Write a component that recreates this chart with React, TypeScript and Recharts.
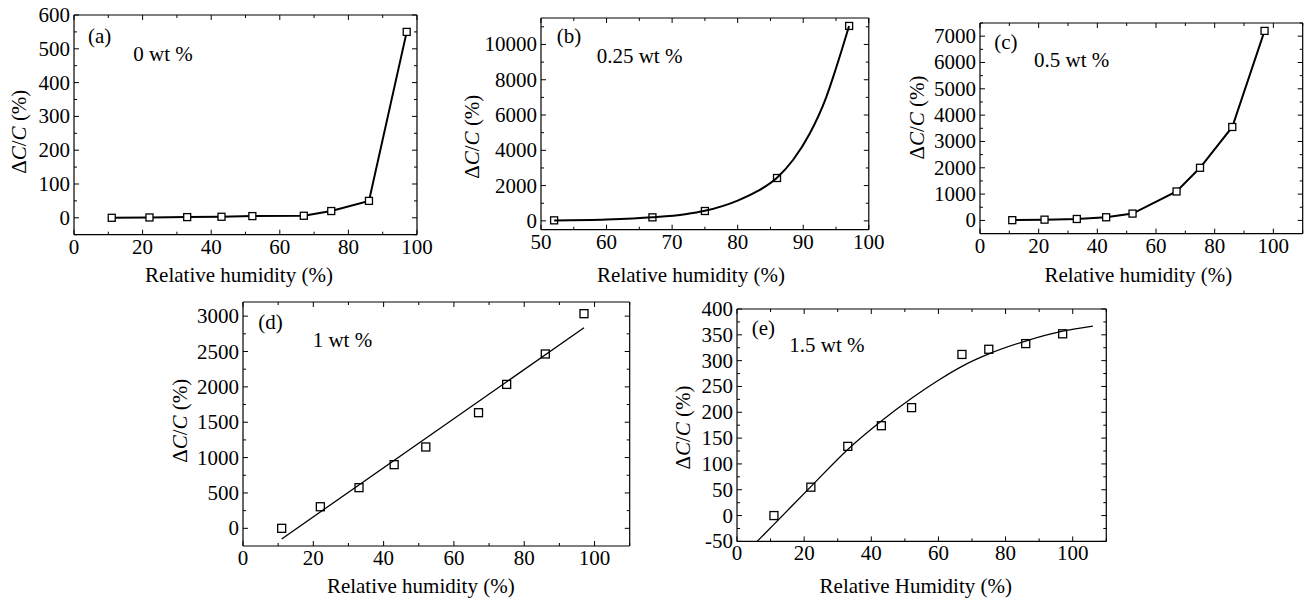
import React from 'react';
import { ComposedChart, Line, XAxis, YAxis } from 'recharts';

// ---------------- DATA ----------------
const humidity = [11, 22, 33, 43, 52, 67, 75, 86, 97];

const dcA = [0, 1, 2, 3, 5, 6, 20, 50, 550];

const humidityB = [52, 67, 75, 86, 97];
const dcB = [30, 200, 560, 2430, 11050];
const fitBx = [52, 60, 67, 72, 75, 80, 83, 86, 88.5, 91, 93.5, 95, 97];
const fitBy = [25, 75, 200, 375, 570, 1150, 1680, 2450, 3480, 4950, 7000, 8650, 11050];

const dcC = [10, 30, 55, 120, 260, 1100, 2000, 3550, 7200];

const dcD = [0, 305, 575, 900, 1150, 1635, 2035, 2465, 3035];
const fitDx = [11, 97];
const fitDy = [-150, 2835];

const dcE = [0, 55, 134, 174, 209, 312, 322, 333, 352];
const fitEx = [6, 11, 22, 33, 43, 52, 60, 67, 75, 86, 97, 106];
const fitEy = [-50, -17, 56, 128, 183, 227, 262, 289, 313, 338, 357, 367];

// tick labels
const xTicksA = [0, 20, 40, 60, 80, 100];
const xMinorA = [10, 30, 50, 70, 90];
const yTicksA = [0, 100, 200, 300, 400, 500, 600];
const yMinorA = [-50, 50, 150, 250, 350, 450, 550];

const xTicksB = [50, 60, 70, 80, 90, 100];
const xMinorB = [55, 65, 75, 85, 95];
const yTicksB = [0, 2000, 4000, 6000, 8000, 10000];
const yMinorB = [1000, 3000, 5000, 7000, 9000, 11000];

const xTicks110 = [0, 20, 40, 60, 80, 100];
const xMinor110 = [10, 30, 50, 70, 90, 110];
const yTicksC = [0, 1000, 2000, 3000, 4000, 5000, 6000, 7000];
const yMinorC = [500, 1500, 2500, 3500, 4500, 5500, 6500, 7500];

const yTicksD = [0, 500, 1000, 1500, 2000, 2500, 3000];
const yMinorD = [250, 750, 1250, 1750, 2250, 2750];

const yTicksE = [-50, 0, 50, 100, 150, 200, 250, 300, 350, 400];
const yMinorE = [-25, 25, 75, 125, 175, 225, 275, 325, 375];

const xTitleLower = 'Relative humidity (%)';
const xTitleUpper = 'Relative Humidity (%)';

// ---------------- HELPERS ----------------
const FONT = '"Liberation Serif", "Times New Roman", serif';
const FS = 21;

type Pt = { x: number; y: number };
const zip = (xs: number[], ys: number[]): Pt[] => xs.map((x, i) => ({ x, y: ys[i] }));

type Side = 'left' | 'right' | 'top' | 'bottom';
const makeTick = (side: Side, major: number[], label: boolean) => (props: any) => {
  const { x, y, payload } = props;
  const v = payload.value;
  const isMajor = major.includes(v);
  const len = isMajor ? 5 : 3;
  let c = [x, y, x, y];
  if (side === 'left') c = [x, y, x + len, y];
  if (side === 'right') c = [x, y, x - len, y];
  if (side === 'bottom') c = [x, y, x, y - len];
  if (side === 'top') c = [x, y, x, y + len];
  return (
    <g>
      <line x1={c[0]} y1={c[1]} x2={c[2]} y2={c[3]} stroke="#000" strokeWidth={1} />
      {label && isMajor && side === 'left' && (
        <text x={x - 4} y={y + 7} textAnchor="end" style={{ fontFamily: FONT }} fontSize={FS} fill="#000">
          {v}
        </text>
      )}
      {label && isMajor && side === 'bottom' && (
        <text x={x} y={y + 19} textAnchor="middle" style={{ fontFamily: FONT }} fontSize={FS} fill="#000">
          {v}
        </text>
      )}
    </g>
  );
};

const squareDot = (size: number, fill: string) => (props: any) => {
  const { cx, cy, index } = props;
  if (cx == null || cy == null) return <g key={`n${index}`} />;
  return (
    <rect
      key={`sq${index}`}
      x={cx - size / 2}
      y={cy - size / 2}
      width={size}
      height={size}
      fill={fill}
      stroke="#000"
      strokeWidth={1.3}
    />
  );
};

interface PanelProps {
  left: number;
  top: number;
  right: number;
  bottom: number;
  xDomain: [number, number];
  xMajor: number[];
  xMinor: number[];
  yDomain: [number, number];
  yMajor: number[];
  yMinor: number[];
  points: Pt[];
  connect: boolean;
  fit?: Pt[];
  fitType?: 'monotone' | 'linear';
  lineWidth: number;
  sq: number;
  sqFill: string;
}

const PADL = 80;
const PADR = 24;
const PADT = 15;
const PADB = 30;

function Panel(p: PanelProps) {
  const w = p.right - p.left + PADL + PADR;
  const h = p.bottom - p.top + PADT + PADB;
  const xt = [...p.xMajor, ...p.xMinor].sort((a, b) => a - b);
  const yt = [...p.yMajor, ...p.yMinor].sort((a, b) => a - b);
  const axisLine = { stroke: '#000', strokeWidth: 1.2 };
  return (
    <div style={{ position: 'absolute', left: p.left - PADL, top: p.top - PADT, width: w, height: h }}>
      <ComposedChart width={w} height={h} margin={{ top: 0, right: 0, bottom: 0, left: 0 }} style={{ overflow: 'visible' }}>
        <XAxis
          xAxisId={0}
          type="number"
          dataKey="x"
          domain={p.xDomain}
          ticks={xt}
          interval={0}
          allowDataOverflow
          orientation="bottom"
          height={PADB}
          tickSize={0}
          tickMargin={0}
          tickLine={false}
          axisLine={axisLine}
          tick={makeTick('bottom', p.xMajor, true)}
        />
        <XAxis
          xAxisId="t"
          type="number"
          dataKey="x"
          domain={p.xDomain}
          ticks={xt}
          interval={0}
          allowDataOverflow
          orientation="top"
          height={PADT}
          tickSize={0}
          tickMargin={0}
          tickLine={false}
          axisLine={axisLine}
          tick={makeTick('top', p.xMajor, false)}
        />
        <YAxis
          yAxisId={0}
          type="number"
          domain={p.yDomain}
          ticks={yt}
          interval={0}
          allowDataOverflow
          orientation="left"
          width={PADL}
          tickSize={0}
          tickMargin={0}
          tickLine={false}
          axisLine={axisLine}
          tick={makeTick('left', p.yMajor, true)}
        />
        <YAxis
          yAxisId="r"
          type="number"
          domain={p.yDomain}
          ticks={yt}
          interval={0}
          allowDataOverflow
          orientation="right"
          width={PADR}
          tickSize={0}
          tickMargin={0}
          tickLine={false}
          axisLine={axisLine}
          tick={makeTick('right', p.yMajor, false)}
        />
        {p.fit && (
          <Line
            data={p.fit}
            dataKey="y"
            type={p.fitType || 'linear'}
            stroke="#000"
            strokeWidth={p.lineWidth}
            dot={false}
            activeDot={false}
            isAnimationActive={false}
          />
        )}
        <Line
          data={p.points}
          dataKey="y"
          type="linear"
          stroke={p.connect ? '#000' : 'none'}
          strokeWidth={p.lineWidth}
          dot={squareDot(p.sq, p.sqFill)}
          activeDot={false}
          isAnimationActive={false}
        />
      </ComposedChart>
    </div>
  );
}

const YTitle = ({ cx, cy }: { cx: number; cy: number }) => (
  <text
    transform={`translate(${cx},${cy}) rotate(-90)`}
    textAnchor="middle"
    dominantBaseline="central"
    style={{ fontFamily: FONT }}
    fontSize={FS}
    fill="#000"
  >
    Δ<tspan fontStyle="italic">C</tspan>/<tspan fontStyle="italic">C</tspan> (%)
  </text>
);

const T = ({ x, y, children, anchor = 'start' }: any) => (
  <text x={x} y={y} textAnchor={anchor} style={{ fontFamily: FONT }} fontSize={FS} fill="#000">
    {children}
  </text>
);

export default function App() {
  return (
    <div style={{ position: 'absolute', left: 0, top: 0, width: 1306, height: 602, background: '#fff', overflow: 'hidden', fontFamily: FONT }}>
      <Panel
        left={74} top={15} right={417} bottom={234.7}
        xDomain={[0, 100]} xMajor={xTicksA} xMinor={xMinorA}
        yDomain={[-50, 600]} yMajor={yTicksA} yMinor={yMinorA}
        points={zip(humidity, dcA)} connect lineWidth={2} sq={7} sqFill="#fff"
      />
      <Panel
        left={540.7} top={18.3} right={868.5} bottom={230}
        xDomain={[50, 100]} xMajor={xTicksB} xMinor={xMinorB}
        yDomain={[-500, 11500]} yMajor={yTicksB} yMinor={yMinorB}
        points={zip(humidityB, dcB)} connect={false}
        fit={zip(fitBx, fitBy)} fitType="monotone" lineWidth={2} sq={7} sqFill="none"
      />
      <Panel
        left={980} top={22.7} right={1302.7} bottom={233.3}
        xDomain={[0, 110]} xMajor={xTicks110} xMinor={xMinor110}
        yDomain={[-500, 7500]} yMajor={yTicksC} yMinor={yMinorC}
        points={zip(humidity, dcC)} connect lineWidth={2} sq={7} sqFill="#fff"
      />
      <Panel
        left={243.3} top={301.7} right={630} bottom={545.7}
        xDomain={[0, 110]} xMajor={xTicks110} xMinor={xMinor110}
        yDomain={[-250, 3200]} yMajor={yTicksD} yMinor={yMinorD}
        points={zip(humidity, dcD)} connect={false}
        fit={zip(fitDx, fitDy)} fitType="linear" lineWidth={1.3} sq={8} sqFill="none"
      />
      <Panel
        left={736.7} top={309.3} right={1106} bottom={541.7}
        xDomain={[0, 110]} xMajor={xTicks110} xMinor={xMinor110}
        yDomain={[-50, 400]} yMajor={yTicksE} yMinor={yMinorE}
        points={zip(humidity, dcE)} connect={false}
        fit={zip(fitEx, fitEy)} fitType="monotone" lineWidth={1.3} sq={8} sqFill="none"
      />
      <svg width={1306} height={602} style={{ position: 'absolute', left: 0, top: 0, pointerEvents: 'none' }}>
        <YTitle cx={19} cy={131.7} />
        <YTitle cx={471.7} cy={136.7} />
        <YTitle cx={916.7} cy={117.5} />
        <YTitle cx={180} cy={420.8} />
        <YTitle cx={683.3} cy={427.5} />

        <T x={239} y={282} anchor="middle">{xTitleLower}</T>
        <T x={691} y={282} anchor="middle">{xTitleLower}</T>
        <T x={1138.3} y={281.7} anchor="middle">{xTitleLower}</T>
        <T x={420.8} y={593} anchor="middle">{xTitleLower}</T>
        <T x={915.8} y={593} anchor="middle">{xTitleUpper}</T>

        <T x={88} y={43}>(a)</T>
        <T x={133.3} y={60.7}>0 wt %</T>
        <T x={556.7} y={43.3}>(b)</T>
        <T x={596.7} y={62.7}>0.25 wt %</T>
        <T x={994.3} y={49.3}>(c)</T>
        <T x={1034} y={66.7}>0.5 wt %</T>
        <T x={258.3} y={329}>(d)</T>
        <T x={312.7} y={347.3}>1 wt %</T>
        <T x={751.7} y={335}>(e)</T>
        <T x={789.3} y={351.7}>1.5 wt %</T>
      </svg>
    </div>
  );
}
